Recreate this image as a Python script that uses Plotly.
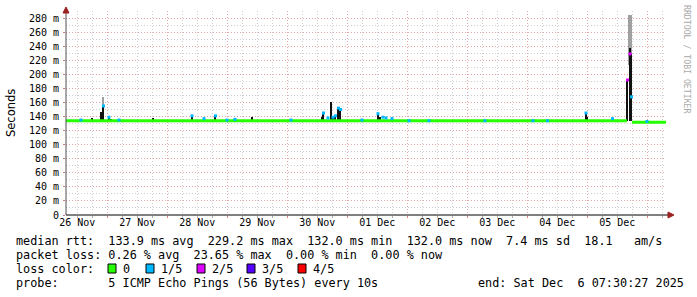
import plotly.graph_objects as go
import pandas as pd

# ---------------- data ----------------
t_start = "2025-11-26 07:30:27"
t_end = "2025-12-06 07:30:27"

# median rtt baseline (ms), segments separated where no loss-0 median is drawn
median_time = ["2025-11-26 07:30:27", "2025-12-05 15:54", "2025-12-05 17:54", "2025-12-06 07:30:27"]
median_value = [133.9, 133.9, 132.0, 132.0]
median_segment = [0, 0, 1, 1]

# dark smoke spikes (ms, top of spike)
dark_time = ["2025-11-26 18:06", "2025-11-26 21:30", "2025-11-26 22:30", "2025-11-27 00:42",
             "2025-11-27 01:30", "2025-11-27 18:18", "2025-11-28 09:54", "2025-11-28 14:42",
             "2025-11-28 19:18", "2025-11-29 10:06", "2025-11-30 13:54", "2025-11-30 14:30",
             "2025-11-30 17:30", "2025-11-30 18:18", "2025-11-30 19:18", "2025-11-30 20:30",
             "2025-11-30 21:18", "2025-12-01 12:18", "2025-12-01 13:06", "2025-12-04 23:30",
             "2025-12-05 00:06", "2025-12-05 10:06", "2025-12-05 16:06", "2025-12-05 17:06",
             "2025-12-05 17:42"]
dark_top = [138, 147, 153, 139, 137, 138, 142, 137, 141, 139, 140, 145, 160, 140, 142, 153,
            152, 145, 140, 146, 140, 137, 192, 237, 229]

# light smoke (ms)
smoke_time = ["2025-11-26 22:30", "2025-12-05 17:06"]
smoke_low = [150, 213]
smoke_high = [168, 284]

# median points with packet loss (ms, loss level out of 5)
loss_time = ["2025-11-26 13:30", "2025-11-26 22:30", "2025-11-27 00:42", "2025-11-27 04:42",
             "2025-11-28 09:54", "2025-11-28 14:42", "2025-11-28 19:18", "2025-11-28 23:54",
             "2025-11-29 03:06", "2025-11-30 01:30", "2025-11-30 14:30", "2025-11-30 16:18",
             "2025-11-30 18:18", "2025-11-30 19:18", "2025-11-30 20:30", "2025-11-30 21:18",
             "2025-12-01 05:54", "2025-12-01 12:18", "2025-12-01 14:18", "2025-12-01 15:30",
             "2025-12-01 17:54", "2025-12-02 00:42", "2025-12-02 08:42", "2025-12-03 07:06",
             "2025-12-04 02:18", "2025-12-04 08:06", "2025-12-04 23:30", "2025-12-05 10:06",
             "2025-12-05 16:06", "2025-12-05 17:06", "2025-12-05 17:42", "2025-12-05 23:54"]
loss_median = [135, 155, 139, 135, 141, 137, 141, 135, 136, 135, 145, 138, 139, 141, 152, 150,
               135, 144, 139, 138, 137, 134, 134, 134, 134, 134, 145, 137, 192, 229, 168, 133]
loss_level = [1, 1, 1, 1, 1, 1, 1, 1, 1, 1, 1, 1, 1, 1, 1, 1, 1, 1, 1, 1, 1, 1, 1, 1, 1, 1, 1, 1,
              2, 2, 1, 1]

y_tick_values = [0, 20, 40, 60, 80, 100, 120, 140, 160, 180, 200, 220, 240, 260, 280]
y_tick_text = ["0", "20 m", "40 m", "60 m", "80 m", "100 m", "120 m", "140 m", "160 m",
               "180 m", "200 m", "220 m", "240 m", "260 m", "280 m"]
day_label_dates = ["2025-11-26", "2025-11-27", "2025-11-28", "2025-11-29", "2025-11-30",
                   "2025-12-01", "2025-12-02", "2025-12-03", "2025-12-04", "2025-12-05"]
day_label_text = ["26 Nov", "27 Nov", "28 Nov", "29 Nov", "30 Nov",
                  "01 Dec", "02 Dec", "03 Dec", "04 Dec", "05 Dec"]

loss_legend = ["0", "1/5", "2/5", "3/5", "4/5"]
loss_colors = ["#26ff00", "#00b8ff", "#dd00ff", "#5500ff", "#ff0000"]

stats_line1 = "median rtt:  133.9 ms avg  229.2 ms max  132.0 ms min  132.0 ms now  7.4 ms sd  18.1   am/s"
stats_line2 = "packet loss: 0.26 % avg  23.65 % max  0.00 % min  0.00 % now"
probe_line = "probe:       5 ICMP Echo Pings (56 Bytes) every 10s"
end_line = "end: Sat Dec  6 07:30:27 2025"

# ---------------- layout geometry ----------------
W, H = 697, 297
L, R, T, B = 66, 31, 11, 82
PW = W - L - R
PH = H - T - B
MIN_MS = 60 * 1000
PX_MS = 24 * MIN_MS  # one pixel = 24 minutes


def fx(x):
    return (x - L) / PW


def fy(y):
    return (H - B - y) / PH


def nb(s):
    return s.replace(" ", "\u00a0")


MONO = "DejaVu Sans Mono"

fig = go.Figure()

# light smoke
fig.add_trace(go.Bar(
    x=smoke_time, base=smoke_low, y=[h - l for h, l in zip(smoke_high, smoke_low)],
    width=[1.2 * PX_MS, 3.5 * PX_MS], marker=dict(color="#a0a0a0", line=dict(width=0)),
    hoverinfo="skip", showlegend=False))

# median baseline (loss 0)
mx, my = [], []
for i, (t, v, s) in enumerate(zip(median_time, median_value, median_segment)):
    if i > 0 and s != median_segment[i - 1]:
        mx.append(None)
        my.append(None)
    mx.append(t)
    my.append(v)
fig.add_trace(go.Scatter(x=mx, y=my, mode="lines", line=dict(color=loss_colors[0], width=3),
                         connectgaps=False, hoverinfo="skip", showlegend=False))

# dark smoke
base_val = 133
fig.add_trace(go.Bar(
    x=dark_time, base=[base_val] * len(dark_top), y=[v - base_val for v in dark_top],
    width=1.5 * PX_MS, marker=dict(color="#111111", line=dict(width=0)),
    hoverinfo="skip", showlegend=False))

# loss-coloured median points
fig.add_trace(go.Scatter(
    x=loss_time, y=loss_median, mode="markers",
    marker=dict(symbol="square", size=3, color=[loss_colors[l] for l in loss_level],
                line=dict(width=0)),
    hoverinfo="skip", showlegend=False))

# helper trace for the secondary (midnight grid) axis
fig.add_trace(go.Scatter(x=[t_start], y=[0], xaxis="x2", mode="markers",
                         marker=dict(opacity=0), hoverinfo="skip", showlegend=False))

# grid positions
noon = [pd.Timestamp(d) + pd.Timedelta(hours=12) for d in day_label_dates]
midnights = list(pd.date_range("2025-11-27", "2025-12-06", freq="D"))
six_h = [t for t in pd.date_range("2025-11-26 12:00", "2025-12-06 06:00", freq="6h")
         if t.hour != 0]

MGRID = "#e6a6a6"
GRID = "#cfcfcf"
DASH = "1px,2px"

fig.update_layout(
    width=W, height=H,
    margin=dict(l=L, r=R, t=T, b=B, pad=0),
    paper_bgcolor="white", plot_bgcolor="white",
    barmode="overlay", bargap=0,
    showlegend=False,
    font=dict(family=MONO, size=10, color="#000000"),
    xaxis=dict(
        type="date", range=[t_start, t_end], showline=False, zeroline=False,
        tickmode="array", tickvals=noon, ticktext=day_label_text, ticks="",
        showgrid=False, tickfont=dict(family=MONO, size=10, color="#000"),
        minor=dict(tickmode="array", tickvals=six_h, showgrid=True, gridcolor=GRID,
                   griddash=DASH, gridwidth=1, ticks="outside", ticklen=2, tickcolor="#b0b0b0"),
        fixedrange=True,
    ),
    xaxis2=dict(
        type="date", range=[t_start, t_end], overlaying="x", anchor="y", side="bottom",
        tickmode="array", tickvals=midnights, showticklabels=False,
        showgrid=True, gridcolor=MGRID, griddash=DASH, gridwidth=1,
        ticks="outside", ticklen=2, tickcolor="#e08080", showline=False, zeroline=False,
    ),
    yaxis=dict(
        range=[0, 290], tickmode="array", tickvals=y_tick_values, ticktext=y_tick_text,
        showgrid=True, gridcolor=MGRID, griddash=DASH, gridwidth=1,
        minor=dict(dtick=10, tick0=0, showgrid=True, gridcolor=GRID, griddash=DASH, gridwidth=1),
        ticks="outside", ticklen=2, tickcolor="#c08080",
        showline=False, zeroline=False, tickfont=dict(family=MONO, size=10, color="#000"),
        ticklabelstandoff=2, fixedrange=True,
    ),
)

shapes = []
# axis lines
shapes.append(dict(type="line", xref="paper", yref="paper", x0=fx(66), x1=fx(669),
                   y0=fy(215), y1=fy(215), line=dict(color="#000000", width=1)))
shapes.append(dict(type="line", xref="paper", yref="paper", x0=fx(66), x1=fx(66),
                   y0=fy(215), y1=fy(12), line=dict(color="#505050", width=1)))
# arrow heads
ARROW = "#9b2020"
shapes.append(dict(type="path", xref="paper", yref="paper",
                   path=f"M {fx(668)} {fy(212)} L {fx(674)} {fy(215)} L {fx(668)} {fy(218)} Z",
                   fillcolor=ARROW, line=dict(color=ARROW, width=1)))
shapes.append(dict(type="path", xref="paper", yref="paper",
                   path=f"M {fx(63)} {fy(13)} L {fx(66)} {fy(7)} L {fx(69)} {fy(13)} Z",
                   fillcolor=ARROW, line=dict(color=ARROW, width=1)))

annotations = []
TXT = dict(family=MONO, size=11.8, color="#000")


def add_text(text, x, y, anchor="left", font=TXT, angle=0):
    annotations.append(dict(text=nb(text), xref="paper", yref="paper", x=fx(x), y=fy(y),
                            xanchor=anchor, yanchor="middle", showarrow=False, font=font,
                            textangle=angle, borderpad=0))


add_text(stats_line1, 15, 241)
add_text(stats_line2, 15, 255)
add_text("loss color:", 15, 269)
add_text(probe_line, 15, 283)
add_text(end_line, 477, 283)

box_x = [108, 146, 197, 247, 298]
for bx, col, lab in zip(box_x, loss_colors, loss_legend):
    shapes.append(dict(type="rect", xref="paper", yref="paper", x0=fx(bx), x1=fx(bx + 8),
                       y0=fy(273), y1=fy(264), fillcolor=col, line=dict(color="#000", width=1)))
    add_text(lab, bx + 14, 269)

add_text("Seconds", 11, 113, anchor="center",
         font=dict(family="DejaVu Sans", size=11.5, color="#000"), angle=-90)
add_text("RRDTOOL / TOBI OETIKER", 687, 59, anchor="center",
         font=dict(family=MONO, size=8.2, color="#aaaaaa"), angle=90)

fig.update_layout(shapes=shapes, annotations=annotations)

fig.write_html("out.html")
